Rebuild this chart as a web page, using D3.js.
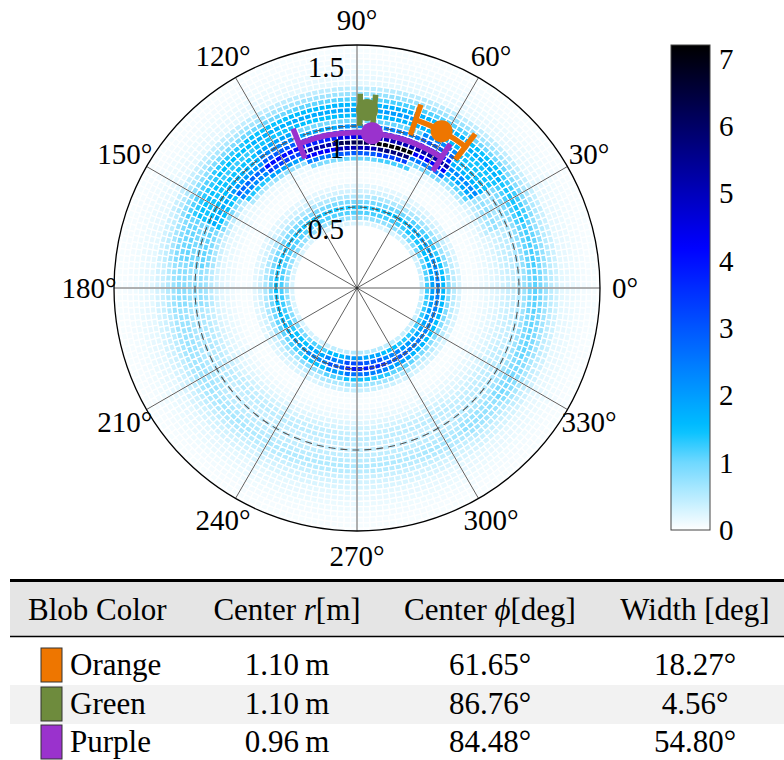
<!DOCTYPE html>
<html>
<head>
<meta charset="utf-8">
<script src="https://cdn.jsdelivr.net/npm/d3@7"></script>
<style>
  body { margin: 0; background: #fff; }
  svg { display: block; }
  text { font-family: "Liberation Serif", "Times New Roman", "DejaVu Serif", serif; fill: #000; }
</style>
</head>
<body>
<svg id="chart" width="784" height="760" font-family="Liberation Serif, Times New Roman, DejaVu Serif, serif"></svg>
<script>
// ---------------- data ----------------
const angleTicks = [0, 30, 60, 90, 120, 150, 180, 210, 240, 270, 300, 330];
const radiusTicks = [0.5, 1, 1.5];
const dashedRadii = [0.5, 1.0];
const colorbarTicks = [0, 1, 2, 3, 4, 5, 6, 7];
const colorMax = 7.2;

// radial bins: centres at k/30 m, k = 12 .. 45
const radialBinIndex = d3.range(12, 46);
// faint halo level for every radial bin (0.40 m ... 1.50 m)
const haloLevel = [0.10, 0.10, 0.10, 0.10, 0.10, 0.10, 0.10, 0.09, 0.07, 0.06,
                   0.08, 0.12, 0.16, 0.20, 0.23, 0.25, 0.26, 0.26, 0.25, 0.23,
                   0.21, 0.20, 0.19, 0.19, 0.20, 0.21, 0.19, 0.17, 0.14, 0.11,
                   0.09, 0.07, 0.06, 0.05];

// angular sectors of 15 deg (centres 0, 15, ..., 345)
const sectorAngles = d3.range(0, 360, 15);
// inner ring (r = 0.50 m) peak intensity per sector
const innerRingPeak = [2.3, 2.1, 1.8, 1.6, 1.4, 1.35, 1.3, 1.3, 1.3, 1.3, 1.3, 1.3,
                       1.35, 1.4, 1.5, 1.7, 2.1, 2.9, 3.8, 3.5, 2.8, 2.4, 2.2, 2.3];
// dark ring peak intensity and centre bin (k/30 m) per sector
const darkRingPeak = [0.15, 0.2, 0.5, 2.0, 5.0, 6.9, 6.0, 5.0, 3.8, 2.5, 1.5, 0.8,
                      0.5, 0.3, 0.25, 0.2, 0.2, 0.2, 0.2, 0.2, 0.2, 0.2, 0.2, 0.15];
const darkRingBin = [29, 29, 28, 28, 28, 27, 27, 27, 28, 28, 29, 29,
                     29, 29, 29, 28, 28, 28, 28, 28, 28, 29, 29, 29];
// outer ring (r = 1.10 m) peak intensity per sector
const outerRingPeak = [0.9, 1.0, 1.2, 1.5, 1.7, 1.8, 1.7, 1.6, 1.5, 1.3, 1.1, 0.8,
                       0.6, 0.5, 0.45, 0.4, 0.35, 0.35, 0.35, 0.35, 0.4, 0.55, 0.75, 0.85];
const outerRingBin = 33;
const innerRingBin = 15;
// radial shapes of the rings, first entry is 3 bins inside the centre bin
const innerRingShape = [0.12, 0.5, 0.8, 1.0, 0.65, 0.35, 0.17, 0.08];
const darkRingShape  = [0.15, 0.45, 0.8, 1.0, 0.7, 0.45, 0.25];
const outerRingShape = [0.2, 0.45, 0.8, 1.0, 0.85, 0.55, 0.3, 0.15];

// detected blobs
const blobNames  = ["Orange", "Green", "Purple"];
const blobColors = ["#EE7600", "#6E8B3D", "#9A32CD"];
const blobR      = [1.10, 1.10, 0.96];
const blobPhi    = [61.65, 86.76, 84.48];
const blobWidth  = [18.27, 4.56, 54.80];

// ---------------- layout ----------------
const svg = d3.select("#chart");
const cx = 357, cy = 288, R = 243;
const rScale = d3.scaleLinear().domain([0, 1.5]).range([0, R]);
const color = d3.scaleLinear()
  .domain([0, 1, 1.5, 4.2, 7.2])
  .range(["#ffffff", "#70d8ff", "#00c0ff", "#0000ff", "#000000"])
  .clamp(true);

const toRad = d => d * Math.PI / 180;
// polar (math convention) to d3.arc angle
const arcAngle = deg => Math.PI / 2 - toRad(deg);

const plot = svg.append("g").attr("transform", `translate(${cx},${cy})`);

// ---------------- heat map cells ----------------
function shapeAt(shape, offset) {
  const i = offset + 3;
  return (i >= 0 && i < shape.length) ? shape[i] : 0;
}
const cells = [];
radialBinIndex.forEach((k, ri) => {
  const r0 = Math.max(0, (k - 0.5) / 30), r1 = Math.min(1.5, (k + 0.5) / 30);
  const rPx = rScale(k / 30);
  const n = 12 * Math.max(1, Math.round(2 * Math.PI * rPx / 6.5 / 12));
  const step = 360 / n;
  for (let j = 0; j < n; j++) {
    const a0 = j * step, a1 = (j + 1) * step;
    const mid = (a0 + a1) / 2;
    const s = Math.round(mid / 15) % 24;
    let v = haloLevel[ri]
      + innerRingPeak[s] * shapeAt(innerRingShape, k - innerRingBin)
      + darkRingPeak[s] * shapeAt(darkRingShape, k - darkRingBin[s])
      + outerRingPeak[s] * shapeAt(outerRingShape, k - outerRingBin);
    cells.push({ r0, r1, a0, a1, v });
  }
});
const cellArc = d3.arc()
  .innerRadius(d => rScale(d.r0))
  .outerRadius(d => rScale(d.r1))
  .startAngle(d => arcAngle(d.a1))
  .endAngle(d => arcAngle(d.a0));
plot.append("g").selectAll("path").data(cells).join("path")
  .attr("d", cellArc)
  .attr("fill", d => color(d.v))
  .attr("stroke", "#fff")
  .attr("stroke-width", 1.3);

// ---------------- grid ----------------
plot.append("g").selectAll("line").data(angleTicks).join("line")
  .attr("x1", 0).attr("y1", 0)
  .attr("x2", d => R * Math.cos(toRad(d)))
  .attr("y2", d => -R * Math.sin(toRad(d)))
  .attr("stroke", "#606060").attr("stroke-width", 1);

plot.append("g").selectAll("circle").data(dashedRadii).join("circle")
  .attr("r", d => rScale(d))
  .attr("fill", "none").attr("stroke", "#555")
  .attr("stroke-width", 1.1).attr("stroke-dasharray", "7,5");

plot.append("circle").attr("r", R)
  .attr("fill", "none").attr("stroke", "#000").attr("stroke-width", 1.3);
plot.append("circle").attr("r", 1.6).attr("fill", "#333");

// angle labels
plot.append("g").selectAll("text").data(angleTicks).join("text")
  .attr("x", d => 268 * Math.cos(toRad(d)))
  .attr("y", d => -268 * Math.sin(toRad(d)))
  .attr("dy", "0.35em")
  .attr("text-anchor", "middle")
  .attr("font-size", 29)
  .text(d => d + "°");

// radius labels
plot.append("g").selectAll("text").data(radiusTicks).join("text")
  .attr("x", -13)
  .attr("y", d => -rScale(d) + 32)
  .attr("text-anchor", "end")
  .attr("font-size", 29)
  .text(d => d3.format("~g")(d));

// ---------------- blobs ----------------
const blobs = blobNames.map((name, i) => ({
  name, color: blobColors[i], r: blobR[i], phi: blobPhi[i], w: blobWidth[i]
}));
const capHalf = 16;
const gBlobs = plot.append("g");
blobs.forEach(b => {
  const g = gBlobs.append("g");
  const rp = rScale(b.r);
  const lo = b.phi - b.w / 2, hi = b.phi + b.w / 2;
  g.append("path")
    .attr("d", d3.arc()({ innerRadius: rp, outerRadius: rp,
                          startAngle: arcAngle(hi), endAngle: arcAngle(lo) }))
    .attr("fill", "none").attr("stroke", b.color).attr("stroke-width", 5.5);
  [lo, hi].forEach(a => {
    const c = Math.cos(toRad(a)), s = Math.sin(toRad(a));
    g.append("line")
      .attr("x1", (rp - capHalf) * c).attr("y1", -(rp - capHalf) * s)
      .attr("x2", (rp + capHalf) * c).attr("y2", -(rp + capHalf) * s)
      .attr("stroke", b.color).attr("stroke-width", 5.5);
  });
  g.append("circle")
    .attr("cx", rp * Math.cos(toRad(b.phi)))
    .attr("cy", -rp * Math.sin(toRad(b.phi)))
    .attr("r", 11).attr("fill", b.color);
});

// ---------------- colour bar ----------------
const cbX = 671, cbW = 39;
const cbY = d3.scaleLinear().domain([0, colorMax]).range([530, 45]);
const defs = svg.append("defs");
const grad = defs.append("linearGradient").attr("id", "cbgrad")
  .attr("x1", 0).attr("y1", 1).attr("x2", 0).attr("y2", 0);
d3.range(0, 1.0001, 0.02).forEach(t => {
  grad.append("stop").attr("offset", t).attr("stop-color", color(t * colorMax));
});
svg.append("rect")
  .attr("x", cbX).attr("y", cbY(colorMax))
  .attr("width", cbW).attr("height", cbY(0) - cbY(colorMax))
  .attr("fill", "url(#cbgrad)")
  .attr("stroke", "#444").attr("stroke-width", 1);
svg.append("g").selectAll("text").data(colorbarTicks).join("text")
  .attr("x", cbX + cbW + 9)
  .attr("y", d => cbY(d))
  .attr("dy", "0.35em")
  .attr("font-size", 29)
  .text(d => d);

// ---------------- table ----------------
const tbl = svg.append("g");
const tLeft = 10, tRight = 784;
const tableFont = 31;
const colX = [28, 287, 490, 695];
const colAnchor = ["start", "middle", "middle", "middle"];
const headerCells = [
  [["Blob Color", false]],
  [["Center ", false], ["r", true], ["[m]", false]],
  [["Center ", false], ["ϕ", true], ["[deg]", false]],
  [["Width [deg]", false]]
];
tbl.append("rect").attr("x", tLeft).attr("y", 582).attr("width", tRight - tLeft).attr("height", 54)
  .attr("fill", "#e5e5e5");
tbl.append("rect").attr("x", tLeft).attr("y", 685).attr("width", tRight - tLeft).attr("height", 39)
  .attr("fill", "#f2f2f2");
tbl.append("line").attr("x1", tLeft).attr("x2", tRight).attr("y1", 580.5).attr("y2", 580.5)
  .attr("stroke", "#000").attr("stroke-width", 3);
tbl.append("line").attr("x1", tLeft).attr("x2", tRight).attr("y1", 636.5).attr("y2", 636.5)
  .attr("stroke", "#000").attr("stroke-width", 1.3);

headerCells.forEach((segs, i) => {
  const t = tbl.append("text").attr("x", colX[i]).attr("y", 620)
    .attr("text-anchor", colAnchor[i]).attr("font-size", tableFont);
  segs.forEach(([s, it]) => t.append("tspan").attr("font-style", it ? "italic" : "normal").text(s));
});

const rowY = [665, 704, 742];
blobs.forEach((b, i) => {
  const y = rowY[i];
  tbl.append("rect").attr("x", 41).attr("y", y - 17).attr("width", 21).attr("height", 34)
    .attr("fill", b.color).attr("stroke", "#333").attr("stroke-width", 1);
  tbl.append("text").attr("x", 70).attr("y", y + 10).attr("font-size", tableFont).text(b.name);
  tbl.append("text").attr("x", colX[1]).attr("y", y + 10).attr("text-anchor", "middle")
    .attr("font-size", tableFont).text(b.r.toFixed(2) + "\u2009m");
  tbl.append("text").attr("x", colX[2]).attr("y", y + 10).attr("text-anchor", "middle")
    .attr("font-size", tableFont).text(b.phi.toFixed(2) + "°");
  tbl.append("text").attr("x", colX[3]).attr("y", y + 10).attr("text-anchor", "middle")
    .attr("font-size", tableFont).text(b.w.toFixed(2) + "°");
});
</script>
</body>
</html>
